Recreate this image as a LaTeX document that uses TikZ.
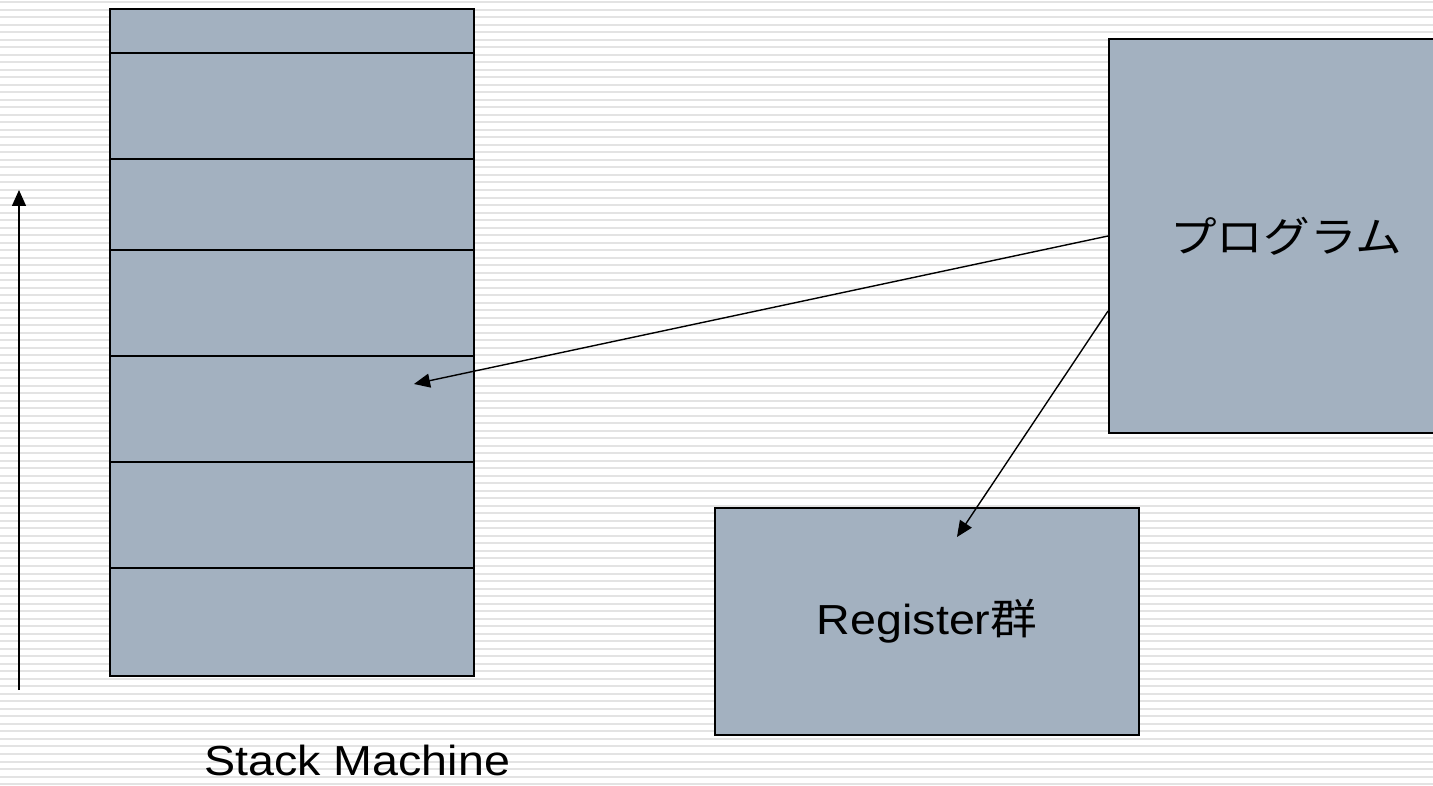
\documentclass[tikz,border=0pt]{standalone}
\usepackage{fontspec}
\setmainfont{Liberation Sans}
\newfontfamily\jafont{Noto Sans CJK JP}
\usetikzlibrary{arrows.meta}
\definecolor{boxfill}{HTML}{A3B1C0}
\definecolor{stripe}{HTML}{E3E3E3}
\newcommand{\wide}[1]{\scalebox{1.11}[1]{#1}}

\begin{document}
\begin{tikzpicture}[x=0.5pt,y=-0.5pt,
  box/.style={draw=black,line width=1pt,fill=boxfill,inner sep=0pt},
  cell/.style={draw=black,line width=0.8pt},
  txt/.style={inner sep=0pt,font=\fontsize{21pt}{25pt}\selectfont},
  link/.style={draw=black,line width=0.7pt,-{Triangle[length=8pt,width=7pt]}}]
\useasboundingbox (0,0) rectangle (1433,786);
\clip (0,0) rectangle (1433,786);

% striped background
\fill[white] (0,0) rectangle (1433,786);
\foreach \k in {0,...,104}
  \fill[stripe] (0,{1+7.52*\k}) rectangle (1433,{3+7.52*\k});

% stack of cells
\node[box,anchor=north west,minimum width=182pt,minimum height=333.5pt] (stack) at (109,8) {};
\foreach \yy in {53,159,250,356,462,568}
  \draw[cell] (stack.west |- 0,\yy) -- (stack.east |- 0,\yy);
\node[txt,anchor=base west] (cap) at (204,775) {\wide{Stack Machine}};

% growth direction
\coordinate (up0) at (19,690);
\coordinate (up1) at (19,190);
\draw[link] (up0) -- (up1);

% program and registers
\node[box,anchor=north west,minimum width=177pt,minimum height=197pt,txt] (prog) at (1108,38) {\wide{\jafont プログラム}};
\node[box,anchor=north west,minimum width=212pt,minimum height=113.5pt,txt] (reg) at (714,507) {\wide{Register{\jafont 群}}};

% connectors
\coordinate (slot) at (414,384);
\coordinate (regin) at (957,537);
\draw[link] (prog.west) -- (slot);
\draw[link] ([yshift=-37.5pt]prog.west) -- (regin);
\end{tikzpicture}
\end{document}
